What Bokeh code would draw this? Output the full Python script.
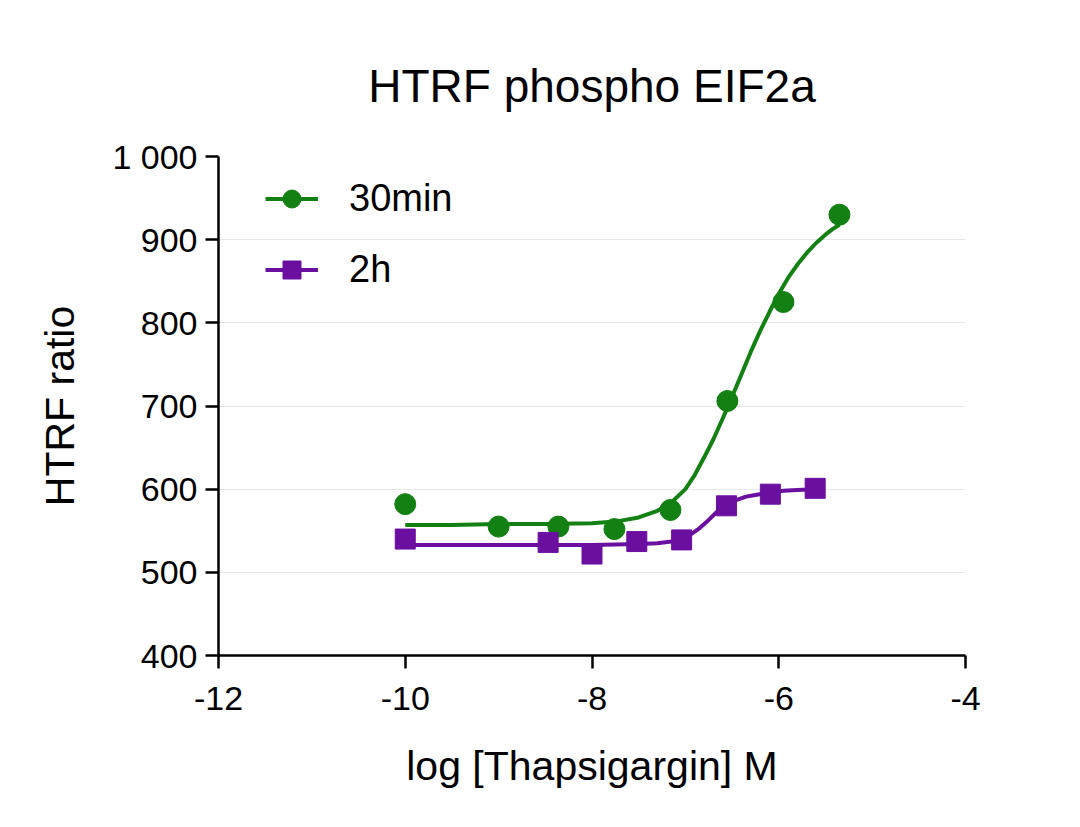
from bokeh.plotting import figure
from bokeh.models import FixedTicker, Range1d, Legend, LegendItem
from bokeh.embed import file_html
from bokeh.resources import INLINE

# ---- data ----
x_30min = [-10.0, -9.0, -8.36, -7.76, -7.16, -6.55, -5.95, -5.35]
y_30min = [582, 555, 555, 552, 575, 706, 825, 930]

x_2h = [-10.0, -8.47, -8.0, -7.52, -7.04, -6.56, -6.09, -5.61]
y_2h = [540, 536, 522, 537, 539, 580, 594, 601]

# fitted curves
curve30_x = [-10, -9.5, -9, -8.5, -8, -7.75, -7.5, -7.3, -7.15, -7.0, -6.9, -6.8,
             -6.7, -6.6, -6.5, -6.4, -6.3, -6.2, -6.1, -6.0, -5.9, -5.8, -5.7,
             -5.6, -5.5, -5.42, -5.35]
curve30_y = [557, 557, 558, 558, 559, 561, 566, 574, 584, 600, 617, 638,
             660, 685, 711, 738, 765, 790, 813, 835, 854, 870, 884,
             896, 906, 913, 918]

curve2h_x = [-10, -9, -8, -7.5, -7.3, -7.15, -7.05, -6.95, -6.85, -6.75, -6.65,
             -6.55, -6.45, -6.35, -6.25, -6.1, -5.95, -5.8, -5.6]
curve2h_y = [533, 533, 533, 534, 535, 537, 540, 545, 553, 563, 574,
             582, 587, 591, 593, 596, 598, 599, 600]

x_ticks = [-12, -10, -8, -6, -4]
x_tick_labels = {-12: "-12", -10: "-10", -8: "-8", -6: "-6", -4: "-4"}
y_ticks = [400, 500, 600, 700, 800, 900, 1000]
y_tick_labels = {1000: "1 000"}
grid_levels = [500, 600, 700, 800, 900, 1000]

title_text = "HTRF phospho EIF2a"
x_label = "log [Thapsigargin] M"
y_label = "HTRF ratio"
series_names = ["30min", "2h"]

GREEN = "#138013"
PURPLE = "#6a0fa0"
FONT = "Liberation Sans"

p = figure(width=1064, height=811, output_backend="svg", toolbar_location=None,
           x_range=Range1d(-12, -4), y_range=Range1d(400, 1000),
           min_border_left=218, min_border_right=99, min_border_top=156,
           min_border_bottom=156)
p.outline_line_color = None
p.background_fill_color = "white"
p.border_fill_color = "white"

p.title.text = title_text
p.title.text_font = FONT
p.title.text_font_size = "46px"
p.title.text_font_style = "normal"
p.title.text_color = "black"
p.title.align = "center"
p.title.standoff = 90

# grid
p.xgrid.visible = False
p.ygrid.ticker = FixedTicker(ticks=grid_levels)
p.ygrid.grid_line_color = "#e8e8e8"
p.ygrid.grid_line_width = 1

# axes
for ax in (p.xaxis[0], p.yaxis[0]):
    ax.axis_line_color = "black"
    ax.axis_line_width = 2.5
    ax.major_tick_line_color = "black"
    ax.major_tick_line_width = 2.5
    ax.major_tick_out = 13
    ax.major_tick_in = 0
    ax.minor_tick_line_color = None
    ax.major_label_text_font = FONT
    ax.major_label_text_font_size = "34px"
    ax.major_label_text_color = "black"
    ax.axis_label_text_font = FONT
    ax.axis_label_text_font_size = "41px"
    ax.axis_label_text_font_style = "normal"
    ax.axis_label_text_color = "black"

p.xaxis.ticker = FixedTicker(ticks=x_ticks)
p.yaxis.ticker = FixedTicker(ticks=y_ticks)
p.xaxis.major_label_overrides = x_tick_labels
p.yaxis.major_label_overrides = y_tick_labels
p.xaxis.axis_label = x_label
p.yaxis.axis_label = y_label
p.xaxis.major_label_standoff = 18
p.yaxis.major_label_standoff = 8
p.xaxis.axis_label_standoff = 30
p.yaxis.axis_label_standoff = 26

# series
l30 = p.line(curve30_x, curve30_y, line_color=GREEN, line_width=4)
m30 = p.scatter(x_30min, y_30min, marker="circle", size=21, fill_color=GREEN, line_color=GREEN)
l2 = p.line(curve2h_x, curve2h_y, line_color=PURPLE, line_width=4)
m2 = p.scatter(x_2h, y_2h, marker="square", size=20, fill_color=PURPLE, line_color=PURPLE)

legend = Legend(items=[LegendItem(label=series_names[0], renderers=[l30, m30]),
                       LegendItem(label=series_names[1], renderers=[l2, m2])],
                location=(47, 363), orientation="vertical")
legend.border_line_color = None
legend.background_fill_alpha = 0
legend.padding = 0
legend.margin = 0
legend.spacing = 26
legend.glyph_width = 53
legend.glyph_height = 45
legend.label_height = 45
legend.label_standoff = 31
legend.label_text_font = FONT
legend.label_text_font_size = "38px"
legend.label_text_color = "black"
p.add_layout(legend)

open("out.html", "w").write(file_html(p, INLINE))
